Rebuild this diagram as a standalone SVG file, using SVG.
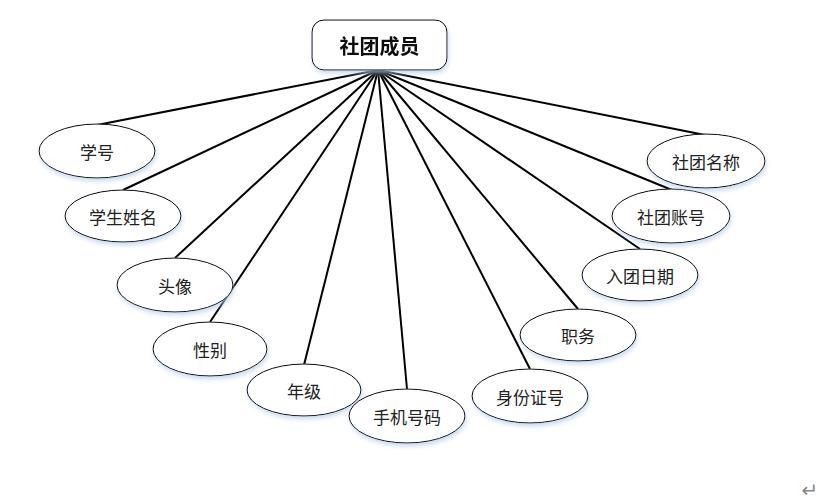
<svg xmlns="http://www.w3.org/2000/svg" width="833" height="504" viewBox="0 0 833 504">
<style>
.n ellipse{fill:#fff;stroke:#000;stroke-width:1}
.n text{font-family:"Noto Sans CJK SC",sans-serif;font-size:17px;fill:#222;text-anchor:middle;dominant-baseline:central}
#edges line{stroke:#000;stroke-width:2}
</style>
<defs>
<filter id="sh" x="-20%" y="-20%" width="140%" height="150%">
<feDropShadow dx="1" dy="3" stdDeviation="2" flood-color="#b9cdea" flood-opacity="0.7"/>
</filter>
</defs>
<rect width="833" height="504" fill="#fff"/>
<g id="edges">
<line x1="378" y1="70" x2="97" y2="125"/>
<line x1="378" y1="70" x2="123" y2="190"/>
<line x1="378" y1="70" x2="175" y2="258"/>
<line x1="378" y1="70" x2="210" y2="322"/>
<line x1="378" y1="70" x2="304" y2="365"/>
<line x1="378" y1="70" x2="407" y2="389"/>
<line x1="378" y1="70" x2="530" y2="369"/>
<line x1="378" y1="70" x2="578" y2="309"/>
<line x1="378" y1="70" x2="640" y2="249"/>
<line x1="378" y1="70" x2="672" y2="190"/>
<line x1="378" y1="70" x2="705" y2="135"/>
</g>
<g id="center" filter="url(#sh)">
<rect x="312" y="20" width="135" height="50" rx="12" fill="#fff" stroke="#000" stroke-width="1"/>
<text x="379.5" y="45" font-family="Noto Sans CJK SC,sans-serif" font-size="20" font-weight="bold" fill="#111" text-anchor="middle" dominant-baseline="central">社团成员</text>
</g>
<g id="n1" class="n"><ellipse cx="97" cy="151" rx="58" ry="27" filter="url(#sh)"/><text x="97" y="151">学号</text></g>
<g id="n2" class="n"><ellipse cx="123" cy="216" rx="58" ry="26" filter="url(#sh)"/><text x="123" y="216">学生姓名</text></g>
<g id="n3" class="n"><ellipse cx="175" cy="285" rx="58" ry="27" filter="url(#sh)"/><text x="175" y="285">头像</text></g>
<g id="n4" class="n"><ellipse cx="210" cy="349" rx="57" ry="27" filter="url(#sh)"/><text x="210" y="349">性别</text></g>
<g id="n5" class="n"><ellipse cx="304" cy="390" rx="57" ry="26" filter="url(#sh)"/><text x="304" y="390">年级</text></g>
<g id="n6" class="n"><ellipse cx="407" cy="416" rx="58" ry="27" filter="url(#sh)"/><text x="407" y="416">手机号码</text></g>
<g id="n7" class="n"><ellipse cx="530" cy="396" rx="58" ry="27" filter="url(#sh)"/><text x="530" y="396">身份证号</text></g>
<g id="n8" class="n"><ellipse cx="578" cy="335" rx="58" ry="26" filter="url(#sh)"/><text x="578" y="335">职务</text></g>
<g id="n9" class="n"><ellipse cx="640" cy="275" rx="58" ry="26" filter="url(#sh)"/><text x="640" y="275">入团日期</text></g>
<g id="n10" class="n"><ellipse cx="671" cy="216" rx="59" ry="27" filter="url(#sh)"/><text x="671" y="216">社团账号</text></g>
<g id="n11" class="n"><ellipse cx="706" cy="161" rx="59" ry="27" filter="url(#sh)"/><text x="706" y="161">社团名称</text></g>
<text x="810" y="490" font-family="DejaVu Sans,sans-serif" font-size="20" fill="#888" text-anchor="middle" dominant-baseline="central">↵</text>
</svg>
